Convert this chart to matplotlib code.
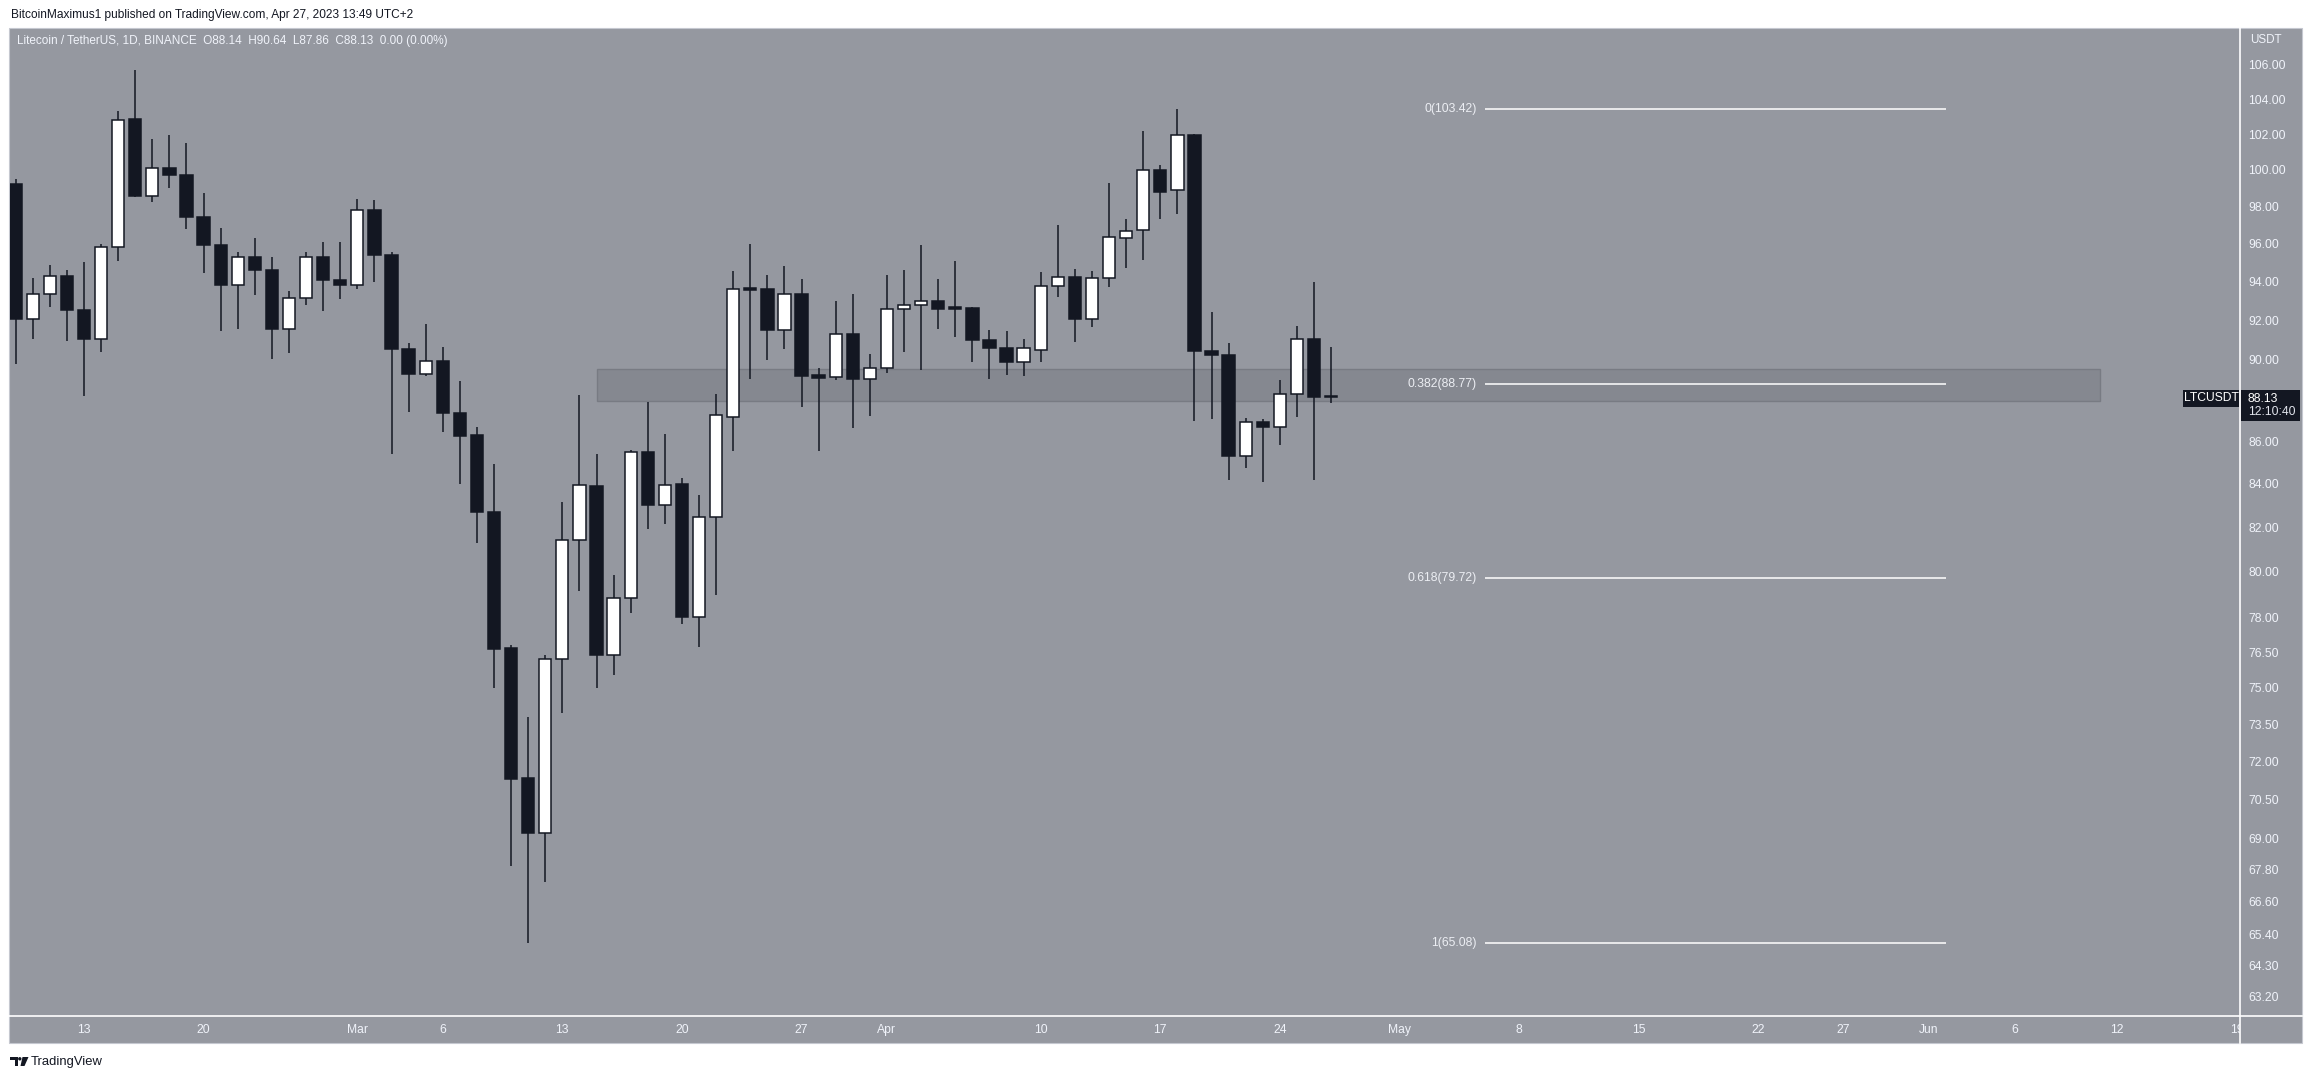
import matplotlib
matplotlib.use('Agg')
import matplotlib.pyplot as plt
import matplotlib.dates as mdates
from matplotlib.patches import Rectangle, Polygon, Circle
from matplotlib.ticker import FixedLocator, FixedFormatter, NullLocator
import numpy as np
import pandas as pd

W, H = 2314, 1079

# daily LTC/USDT candles, Feb 9 .. Apr 27 2023
dates = pd.date_range('2023-02-09', '2023-04-27', freq='D')
opens = [99.24, 92.05, 93.34, 94.28, 92.54, 91.03, 95.81, 102.87, 98.54, 100.10,
         99.70, 97.40, 95.90, 93.79, 95.28, 94.57, 91.53, 93.13, 95.28, 94.07,
         93.79, 97.80, 95.36, 90.51, 89.31, 89.93, 87.35, 86.30, 82.72, 76.70,
         71.35, 69.18, 76.20, 81.41, 83.90, 76.37, 78.84, 85.50, 83.00, 83.99,
         78.01, 82.45, 87.20, 93.60, 93.60, 91.47, 93.36, 89.22, 89.13, 91.29,
         89.03, 89.57, 92.56, 92.77, 92.99, 92.60, 92.60, 90.97, 90.56, 89.86,
         90.50, 93.74, 94.22, 92.03, 94.17, 96.30, 96.70, 100.00, 98.87, 101.94,
         90.41, 90.21, 85.29, 86.96, 86.72, 88.28, 91.02, 88.14]
highs = [99.50, 94.19, 94.87, 94.60, 95.03, 95.99, 103.30, 105.73, 101.75, 101.97,
         101.50, 98.74, 96.84, 95.56, 96.30, 95.30, 93.52, 95.56, 96.09, 96.05,
         98.42, 98.37, 95.54, 90.83, 91.82, 90.65, 88.95, 86.70, 84.95, 76.80,
         73.80, 76.39, 83.16, 88.26, 85.42, 79.86, 85.60, 87.92, 86.37, 84.29,
         83.49, 88.31, 94.56, 95.98, 94.35, 94.82, 94.14, 89.58, 92.99, 93.36,
         90.29, 94.35, 94.61, 95.93, 94.14, 95.08, 92.65, 91.51, 91.46, 91.06,
         94.49, 97.00, 94.65, 94.56, 99.28, 97.30, 102.20, 100.30, 103.42, 102.00,
         92.41, 90.86, 87.11, 87.06, 89.01, 91.72, 93.96, 90.64]
lows = [89.80, 91.03, 92.65, 90.92, 88.18, 90.36, 95.05, 98.50, 98.22, 98.98,
        96.75, 94.42, 91.42, 91.57, 93.30, 90.01, 90.34, 92.79, 92.45, 93.06,
        93.58, 93.95, 85.40, 87.42, 89.21, 86.45, 84.00, 81.30, 74.98, 67.94,
        65.08, 67.34, 73.98, 79.15, 74.98, 75.55, 78.17, 81.90, 82.13, 77.73,
        76.71, 78.98, 85.57, 89.05, 89.99, 90.55, 87.67, 85.57, 88.97, 86.67,
        87.25, 89.36, 90.36, 89.50, 91.57, 91.12, 89.86, 89.06, 89.26, 89.17,
        89.86, 93.17, 90.90, 91.67, 93.68, 94.70, 95.10, 97.30, 97.60, 86.99,
        87.09, 84.20, 84.75, 84.09, 85.84, 87.18, 84.20, 87.86]
closes = [92.05, 93.34, 94.28, 92.50, 91.02, 95.81, 102.81, 98.54, 100.10, 99.70,
          97.40, 95.90, 93.79, 95.28, 94.57, 91.53, 93.13, 95.28, 94.05, 93.79,
          97.80, 95.36, 90.51, 89.31, 89.93, 87.35, 86.24, 82.72, 76.62, 71.32,
          69.18, 76.20, 81.41, 83.94, 76.37, 78.84, 85.50, 83.00, 83.94, 78.01,
          82.45, 87.27, 93.60, 93.55, 91.47, 93.34, 89.20, 89.11, 91.29, 89.02,
          89.58, 92.56, 92.75, 92.96, 92.55, 92.58, 90.97, 90.56, 89.86, 90.56,
          93.74, 94.22, 92.03, 94.17, 96.34, 96.64, 100.00, 98.80, 101.94, 90.45,
          90.21, 85.29, 86.96, 86.70, 88.28, 91.02, 88.14, 88.13]

price_ticks = [106, 104, 102, 100, 98, 96, 94, 92, 90, 86, 84, 82, 80, 78,
               76.5, 75, 73.5, 72, 70.5, 69, 67.8, 66.6, 65.4, 64.3, 63.2]
time_ticks = ['2023-02-13', '2023-02-20', '2023-03-01', '2023-03-06', '2023-03-13',
              '2023-03-20', '2023-03-27', '2023-04-01', '2023-04-10', '2023-04-17',
              '2023-04-24', '2023-05-01', '2023-05-08', '2023-05-15', '2023-05-22',
              '2023-05-27', '2023-06-01', '2023-06-06', '2023-06-12', '2023-06-19']
time_labels = ['13', '20', 'Mar', '6', '13', '20', '27', 'Apr', '10', '17', '24',
               'May', '8', '15', '22', '27', 'Jun', '6', '12', '19']

fib_levels = [103.42, 88.77, 79.72, 65.08]
fib_labels = ['0(103.42)', '0.382(88.77)', '0.618(79.72)', '1(65.08)']
fib_start, fib_end = '2023-05-06', '2023-06-02'
zone_low, zone_high = 87.98, 89.55
zone_start, zone_end = '2023-03-15', '2023-06-11'
last_price = 88.13

BG = '#9598a0'
DARK = '#131722'
TXT = '#f0f3fa'

plt.rcParams['font.family'] = ['Liberation Sans', 'DejaVu Sans']

fig = plt.figure(figsize=(W / 100, H / 100), dpi=100)
fig.patch.set_facecolor('white')


def box(x0, y0, x1, y1):
    # pixel box (top-left origin) -> figure fraction rect
    return [x0 / W, 1 - y1 / H, (x1 - x0) / W, (y1 - y0) / H]


# chart frame, pixel coordinates
back = fig.add_axes([0, 0, 1, 1], zorder=0)
back.set_xlim(0, W)
back.set_ylim(H, 0)
back.axis('off')
back.add_patch(Rectangle((9, 28), 2293, 1015, facecolor=BG, edgecolor='#c5c8d0', lw=0.8))

x = mdates.date2num(dates)
x0 = mdates.date2num(pd.Timestamp('2023-02-13'))

ax = fig.add_axes(box(9.5, 28, 2240, 1016), zorder=2)
ax.set_facecolor('none')
ax.set_yscale('log')
ax.set_xlim(x0 - 4.36, x0 + 126.2)
ax.set_ylim(62.51, 108.2)
for s in ax.spines.values():
    s.set_visible(False)
ax.set_xticks([])
ax.yaxis.tick_right()
ax.yaxis.set_major_locator(FixedLocator(price_ticks))
ax.yaxis.set_major_formatter(FixedFormatter(['%.2f' % p for p in price_ticks]))
ax.yaxis.set_minor_locator(NullLocator())
ax.tick_params(axis='y', which='both', length=0, pad=6, labelsize=8.7, labelcolor=TXT)

# support zone
zs = mdates.date2num(pd.Timestamp(zone_start))
ze = mdates.date2num(pd.Timestamp(zone_end))
ax.add_patch(Rectangle((zs, zone_low), ze - zs, zone_high - zone_low,
                       facecolor='#858890', edgecolor='#787b83', lw=1.0, zorder=1))

# candles
o = np.array(opens)
c = np.array(closes)
up = c >= o
bottoms = np.minimum(o, c)
heights = np.maximum(np.abs(c - o), 0.08)
ax.vlines(x, lows, highs, color=DARK, lw=1.1, zorder=2)
ax.bar(x, heights, bottom=bottoms, width=0.72,
       color=np.where(up, 'white', DARK), edgecolor=DARK, linewidth=1.1, zorder=3)

# fib retracement
fs = mdates.date2num(pd.Timestamp(fib_start))
fe = mdates.date2num(pd.Timestamp(fib_end))
ax.hlines(fib_levels, fs, fe, color='white', lw=1.1, zorder=4)
for lvl, lab in zip(fib_levels, fib_labels):
    ax.annotate(lab, xy=(fs, lvl), xytext=(-8, 0), textcoords='offset pixels',
                ha='right', va='center', fontsize=8.8, color='#eceef3', zorder=5)

# time axis strip
axt = fig.add_axes(box(9.5, 1016, 2240, 1043), zorder=2)
axt.set_xlim(ax.get_xlim())
axt.set_ylim(0, 1)
axt.axis('off')
for d, lab in zip(time_ticks, time_labels):
    axt.text(mdates.date2num(pd.Timestamp(d)), 0.47, lab, ha='center', va='center',
             fontsize=8.7, color=TXT, clip_on=True)

# foreground chrome
front = fig.add_axes([0, 0, 1, 1], zorder=5)
front.set_xlim(0, W)
front.set_ylim(H, 0)
front.axis('off')
front.plot([2240, 2240], [28, 1043], color='white', lw=1.2)
front.plot([9, 2302], [1016, 1016], color='white', lw=1.2)

py = H - ax.transData.transform((x[-1], last_price))[1]
front.add_patch(Rectangle((2240.5, py - 7.5), 59, 31, facecolor=DARK, edgecolor='none'))
front.text(2248, py + 1.5, '%.2f' % last_price, ha='left', va='center', fontsize=8.7, color='white')
front.text(2248, py + 15, '12:10:40', ha='left', va='center', fontsize=8.7, color='#e0e3eb')
front.add_patch(Rectangle((2183, py - 7.5), 56, 17, facecolor=DARK, edgecolor='none'))
front.text(2211, py + 1, 'LTCUSDT', ha='center', va='center', fontsize=8.7, color='white')

front.text(2250, 40, 'USDT', ha='left', va='center', fontsize=8.4, color=TXT)
front.text(11, 15, 'BitcoinMaximus1 published on TradingView.com, Apr 27, 2023 13:49 UTC+2',
           ha='left', va='center', fontsize=8.6, color=DARK)
front.text(17, 41, 'Litecoin / TetherUS, 1D, BINANCE  O88.14  H90.64  L87.86  C88.13  0.00 (0.00%)',
           ha='left', va='center', fontsize=8.5, color=TXT)

# TradingView logo
front.add_patch(Polygon([(10, 1057), (17.5, 1057), (17.5, 1066), (14.5, 1066), (14.5, 1060), (10, 1060)],
                        closed=True, facecolor=DARK, edgecolor='none'))
front.add_patch(Circle((19.8, 1058.8), 1.7, facecolor=DARK, edgecolor='none'))
front.add_patch(Polygon([(22.5, 1057), (28.5, 1057), (24.5, 1066), (20.5, 1066)],
                        closed=True, facecolor=DARK, edgecolor='none'))
front.text(31, 1061.5, 'TradingView', ha='left', va='center', fontsize=9.4, color=DARK)

fig.savefig('out.png', dpi=100, facecolor='white')
